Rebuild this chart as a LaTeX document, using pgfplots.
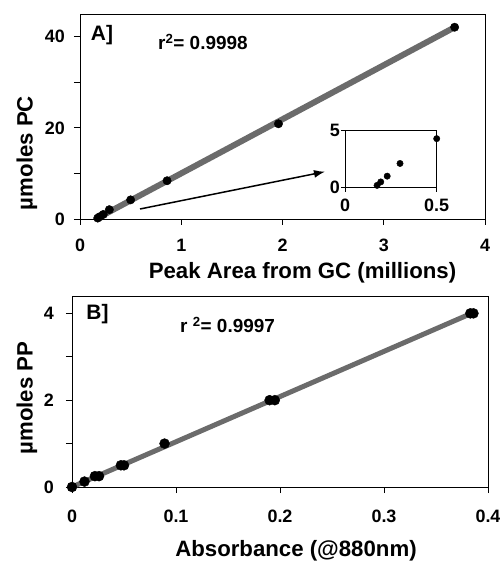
\documentclass[border=0pt]{standalone}
\usepackage{fontspec}
\setmainfont{Liberation Sans}
\usepackage{pgfplots}
\usepackage{pgfplotstable}
\pgfplotsset{compat=1.18}
\usetikzlibrary{arrows.meta}

% PC calibration (GC peak area, millions)
\pgfplotstableread{
x y
0.175 0.2
0.195 0.5
0.23 1.0
0.29 2.05
0.50 4.2
0.86 8.4
1.96 20.9
3.70 42.1
}\pcdata

% low end of the PC calibration, for the inset
\pgfplotstableread{
x y
0.175 0.2
0.195 0.5
0.23 1.0
0.30 2.1
0.50 4.25
}\pclow

% PP calibration (absorbance at 880 nm)
\pgfplotstableread{
x y
0 0
0.012 0.125
0.022 0.25
0.026 0.25
0.047 0.5
0.050 0.5
0.089 1.0
0.190 2.0
0.195 2.0
0.383 4.0
0.386 4.0
}\ppdata

\pgfplotsset{
  panel/.style={
    scale only axis,
    anchor=south west,
    axis line style={line width=0.8bp},
    tick align=outside,
    tick pos=left,
    major tick length=6bp,
    tick style={line width=0.8bp, black},
    /pgf/number format/assume math mode=true,
    ticklabel style={font=\bfseries\fontsize{18}{18}\selectfont, inner sep=0pt},
    clip=false,
  },
  fitline/.style={black!58, line width=5bp, no marks},
}

\begin{document}
\begin{tikzpicture}
  \begin{axis}[panel,
    at={(80bp,342bp)}, width=405bp, height=205bp,
    xmin=0, xmax=4, ymin=0, ymax=45,
    xtick={0,1,2,3,4},
    ytick={0,10,20,30,40}, yticklabels={0,,20,,40},
    xticklabel style={yshift=-14bp},
    yticklabel style={xshift=-9bp},
  ]
    \addplot[fitline, line width=6bp] coordinates {(0.165,0.1) (3.71,42.2)};
    \addplot[only marks, mark=*, mark size=4.2bp, black] table {\pcdata};
  \end{axis}

  % inset
  \begin{axis}[panel,
    at={(345bp,373.3bp)}, width=91.7bp, height=57.7bp,
    xmin=0, xmax=0.5, ymin=0, ymax=5,
    xtick={0,0.5}, xticklabels={0,0.5},
    ytick={0,5},
    major tick length=4bp,
    xticklabel style={yshift=-7bp},
    yticklabel style={xshift=-1bp},
  ]
    \addplot[only marks, mark=*, mark size=3.2bp, black] table {\pclow};
  \end{axis}

  \begin{axis}[panel,
    at={(72bp,74bp)}, width=416bp, height=191bp,
    xmin=0, xmax=0.4, ymin=0, ymax=4.4,
    xtick={0,0.1,0.2,0.3,0.4}, xticklabels={0,0.1,0.2,0.3,0.4},
    ytick={0,1,2,3,4}, yticklabels={0,,2,,4},
    xticklabel style={yshift=-17bp},
    yticklabel style={xshift=-12bp},
  ]
    \addplot[fitline] coordinates {(0,0) (0.386,4.02)};
    \addplot[only marks, mark=*, mark size=5bp, black] table {\ppdata};
  \end{axis}

  \draw[line width=1.5bp, -{Latex[length=11bp,width=8bp]}] (140bp,352bp) -- (325bp,389.3bp);

  \begin{scope}[every node/.style={font=\bfseries\fontsize{22.3}{22}\selectfont, inner sep=0pt}]
    \node[font=\bfseries\fontsize{21}{21}\selectfont] at (102bp,525.5bp) {A]};
    \node[anchor=base west, font=\bfseries\fontsize{19}{19}\selectfont] at (158bp,511bp) {r\textsuperscript{2}= 0.9998};
    \node[font=\bfseries\fontsize{21}{21}\selectfont] at (97.5bp,246.5bp) {B]};
    \node[anchor=base west, font=\bfseries\fontsize{19}{19}\selectfont] at (180bp,228bp) {r \textsuperscript{2}= 0.9997};
    \node[anchor=base] at (302.5bp,282.7bp) {Peak Area from GC (millions)};
    \node[rotate=90] at (27bp,408bp) {µmoles PC};
    \node[anchor=base] at (296bp,5bp) {Absorbance (@880nm)};
    \node[rotate=90] at (27bp,163bp) {µmoles PP};
  \end{scope}

  \pgfresetboundingbox
  \path[use as bounding box] (0,0) rectangle (500bp,561bp);
\end{tikzpicture}
\end{document}
